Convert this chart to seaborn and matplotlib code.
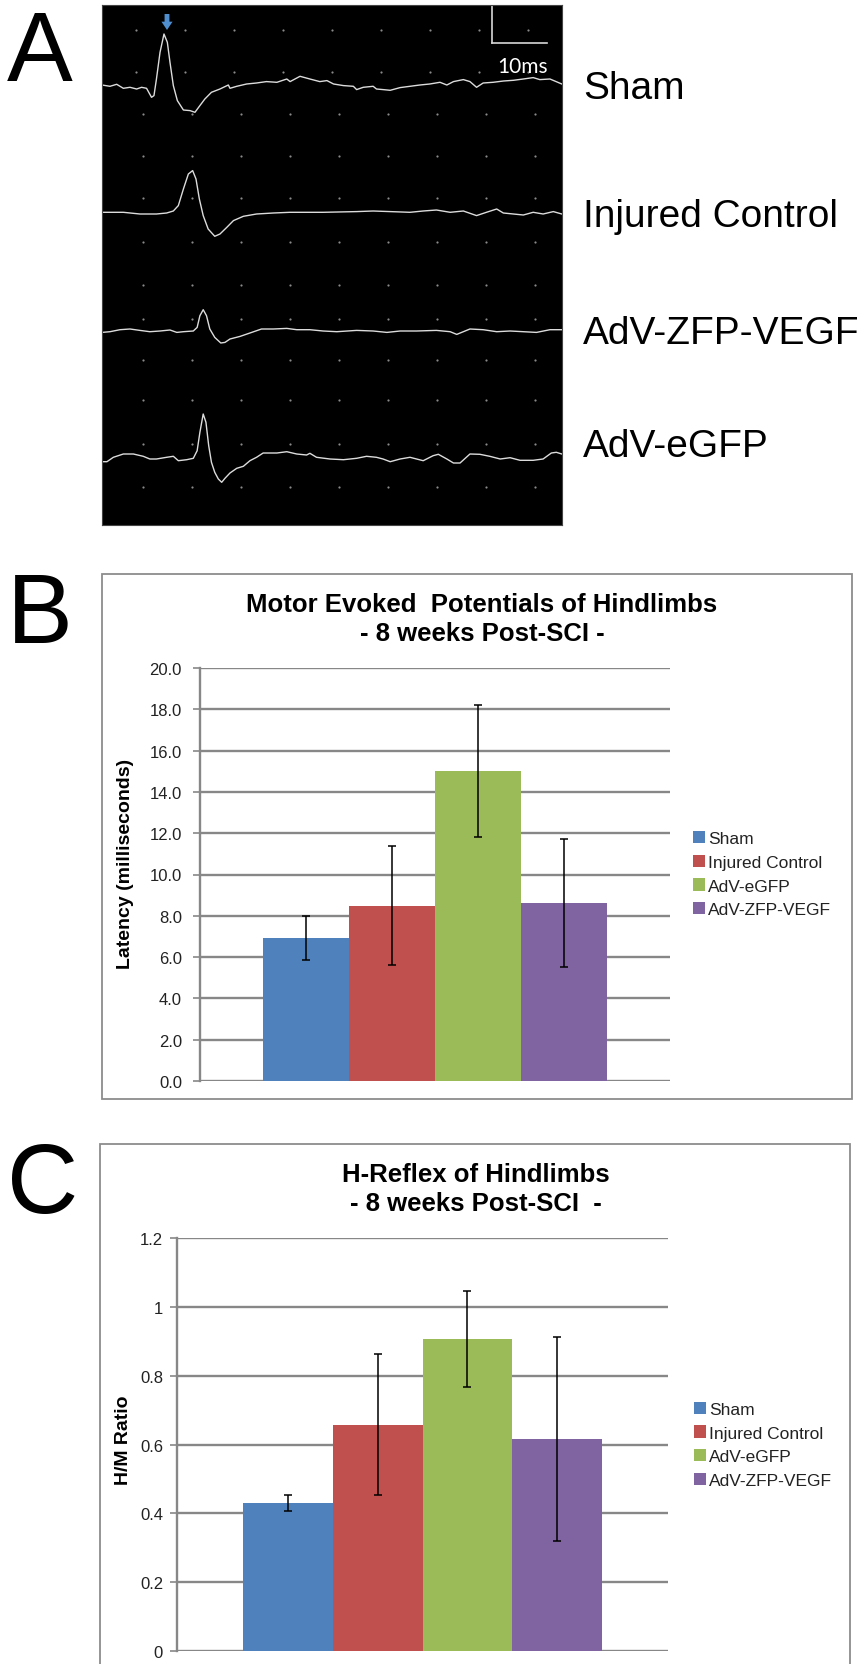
import numpy as np
import pandas as pd
import seaborn as sns
import matplotlib
matplotlib.use("Agg")
from matplotlib import pyplot as plt
from matplotlib.patches import Patch, Rectangle

# %% data
trace_names = ["Sham", "Injured Control", "AdV-ZFP-VEGF", "AdV-eGFP"]

# traces: time (ms) and amplitude (screen units, up = positive)
sham_t = [0, 1.45, 2.67, 3.88, 5.09, 6.3, 7.2, 8.1, 9.0, 9.45, 9.9, 10.55, 11.27, 11.88, 12.36, 12.97,
          13.7, 14.8, 16.0, 16.9, 17.8, 18.7, 19.9, 21.45, 22.97, 23.27, 24.5, 26.3, 28.1, 29.9, 31.8,
          33.6, 34.2, 36.0, 37.8, 39.6, 40.9, 42.1, 43.9, 45.7, 46.3, 47.5, 49.3, 49.9, 51.1, 52.4,
          54.2, 56.0, 57.8, 59.6, 61.45, 62.7, 63.9, 65.7, 66.9, 68.1, 69.3, 71.1, 73.0, 74.8, 76.6,
          78.4, 79.6, 81.45, 83.6]
sham_amp = [1.3, 0, 2, -2, -1, -2.7, -1, -2, -11, -9.3, 7.3, 34, 52.3, 44, 24, 0.7,
            -14.3, -23.7, -24.3, -26, -19.3, -12.7, -6, -2.7, 1.3, -2, 0, 2.3, 3.3, 4.7, 4,
            7.3, 4.7, 10, 7.3, 4.7, 5.7, 2.3, 0.7, 0, -3.3, -1, 0, -2.7, -3.3, -4,
            -1.3, 0, 1.3, 2.3, 4, 1.3, 4.7, 6.7, 4.7, -1, 3.3, 4, 5.3, 6, 7.3,
            8.7, 6.7, 7.3, 2.3]

injured_t = [0, 3.88, 6.9, 9.9, 11.76, 12.97, 13.88, 14.8, 15.7, 16.48, 17.09, 17.7, 18.4, 19.3,
             20.5, 21.45, 22.7, 23.9, 25.7, 28.1, 31.15, 34.2, 40.2, 46.3, 49.3, 52.4, 56.0, 58.4,
             60.8, 63.3, 65.7, 68.1, 69.9, 71.76, 72.97, 74.8, 76.6, 78.4, 80.2, 82.06, 83.6]
injured_amp = [0, 0, -1.7, -1.7, -0.7, 1.3, 6.7, 23.3, 38.3, 41.7, 33.3, 13.3, -3.3, -16.7,
               -24, -21.7, -15, -8.3, -4, -1.7, -0.7, 0, 0, 0.7, 1.3, 0.7, 0, 1.3,
               2.3, 0, 1.3, -3.3, 0, 3.3, -0.7, -1.7, -2.7, 0, -1.7, 0.7, -1.7]

zfp_t = [0, 1.45, 3.27, 5.09, 6.9, 8.7, 10.55, 12.36, 13.6, 14.8, 16.6, 17.3, 17.8, 18.4, 19.0,
         19.6, 20.5, 21.6, 22.36, 23.27, 25.1, 26.9, 29.0, 31.15, 33.6, 35.4, 37.8, 40.2, 42.7,
         46.3, 49.3, 51.8, 54.2, 57.2, 60.8, 63.3, 64.5, 66.9, 69.3, 71.76, 74.2, 76.6, 79.0,
         81.45, 83.6]
zfp_amp = [-0.7, 0, 2, 2.7, 1.3, 0, 0.7, 1.7, -0.7, 0, 0.7, 4.3, 16, 22, 16,
           2.7, -5.7, -11.3, -10.7, -7.3, -4.7, -1.3, 2.7, 2.7, 3.3, 2, 2, 0.7, 0,
           1.3, 0.7, -0.7, 0.7, 0.7, 1.3, 0, -2.7, 2.7, 2, 0, 0.7, 0, -0.7,
           2, 2]

egfp_t = [0, 0.9, 2.06, 3.88, 5.7, 7.5, 8.7, 9.9, 11.76, 12.97, 13.88, 15.4, 16.6, 17.3, 17.8,
          18.4, 18.9, 19.4, 19.9, 20.5, 21.15, 21.76, 22.36, 23.27, 24.5, 25.7, 26.9, 28.1, 29.3,
          31.8, 33.6, 35.4, 37.2, 37.8, 39.0, 41.45, 43.9, 46.3, 48.1, 49.9, 51.1, 52.4, 54.2,
          56.0, 58.4, 60.2, 61.15, 62.7, 63.9, 65.1, 66.9, 68.7, 70.5, 72.4, 74.2, 76.0, 78.4,
          80.2, 81.7, 82.6, 83.6]
egfp_amp = [-2.7, -2.7, 1.7, 5, 5, 2.7, 0, 0, 1.7, 2.7, -1.7, -0.7, 0.7, 8.3, 26.7,
            45, 36.7, 13.3, -3.3, -13.3, -20, -23.3, -19.3, -14, -9.3, -7.3, -1.7, 1.7, 6,
            6, 7.3, 5, 4, 5.7, 1.7, 0, -0.7, 0.7, 2.7, 1.7, 0, -2.7, 0,
            1.7, -1.7, 3.3, 4.7, 0, -4, -4, 5, 4.7, 2.7, 0, 1.3, -1.3, -1.3,
            0, 6, 6.7, 5]

groups = ["Sham", "Injured Control", "AdV-eGFP", "AdV-ZFP-VEGF"]
mep_latency = [6.92, 8.49, 15.0, 8.62]
mep_err = [1.07, 2.89, 3.2, 3.12]
hm_ratio = [0.430, 0.657, 0.907, 0.617]
hm_err = [0.022, 0.205, 0.14, 0.296]

colors = ["#4F81BD", "#C0504D", "#9BBB59", "#8064A2"]

# %% figure
W, H = 863, 1665
fig = plt.figure(figsize=(W / 100, H / 100), dpi=100)
plt.rcParams["font.family"] = ["Liberation Sans", "DejaVu Sans"]


def fig_rect(x0, y0, x1, y1):
    return [x0 / W, 1 - y1 / H, (x1 - x0) / W, (y1 - y0) / H]


def fx(x):
    return x / W


def fy(y):
    return 1 - y / H


# %% panel A - traces
PX_PER_MS = 5.5
axA = fig.add_axes(fig_rect(102, 6, 562, 526))
axA.set_facecolor("black")
axA.set_xlim(0, 460 / PX_PER_MS)
axA.set_ylim(520, 0)
axA.set_xticks([])
axA.set_yticks([])
for s in axA.spines.values():
    s.set_color("#444444")
    s.set_linewidth(0.8)

# faint grid dots of the recorder screen
dot_rows = [25, 67, 109, 151, 193, 237, 280, 314, 355, 395, 439, 482]
for i, yr in enumerate(dot_rows):
    x0 = 34 if i < 2 else 41
    xs = (x0 + 49 * np.arange(9)) / PX_PER_MS
    axA.scatter(xs, [yr] * len(xs), s=2.5, color="#8a8a8a", linewidths=0)

baselines = [81.3, 207.3, 326.7, 454.0]
traces = [(sham_t, sham_amp), (injured_t, injured_amp), (zfp_t, zfp_amp), (egfp_t, egfp_amp)]
for (t, amp), base in zip(traces, baselines):
    sns.lineplot(x=t, y=base - np.array(amp), ax=axA, color="#dcdcdc", lw=1.0,
                 estimator=None, sort=False)

# scale bar
sb_x0, sb_x1 = 390 / PX_PER_MS, 445 / PX_PER_MS
axA.plot([sb_x0, sb_x0], [0, 38], color="#d8d8d8", lw=1.2)
axA.plot([sb_x0, sb_x1], [38, 38], color="#d8d8d8", lw=1.2)
axA.text((sb_x0 + sb_x1) / 2 + 0.6, 61, "10ms", color="white", fontsize=15,
         family=["Lato", "DejaVu Sans"], ha="center", va="center")

# stimulus arrow
axA.annotate("", xy=(65 / PX_PER_MS, 25), xytext=(65 / PX_PER_MS, 9),
             arrowprops=dict(width=3.5, headwidth=8, headlength=6, color="#4f8fd0", lw=0))

label_baselines = [99, 227, 344, 457]
for name, yb in zip(trace_names, label_baselines):
    fig.text(fx(583), fy(yb), name, fontsize=28, ha="left", va="baseline")

# panel letters
for letter, yb in zip(["A", "B", "C"], [81, 643, 1213]):
    fig.text(fx(7), fy(yb), letter, fontsize=71, ha="left", va="baseline")


# %% panels B and C - bar charts
def bar_panel(box, rect, values, errs, ymax, step, fmt, ylabel, ylabel_xy, titles, title_x,
              leg_anchor, tick_pad):
    bx0, by0, bx1, by1 = box
    fig.add_artist(Rectangle((fx(bx0), fy(by1)), (bx1 - bx0) / W, (by1 - by0) / H,
                             transform=fig.transFigure, fill=False, ec="#8c8c8c", lw=1.3))
    ax = fig.add_axes(fig_rect(*rect))
    df = pd.DataFrame({"time": "8 weeks", "group": groups, "value": values})
    sns.barplot(data=df, x="time", y="value", hue="group", hue_order=groups, palette=colors,
                width=0.73, gap=0, saturation=1, errorbar=None, legend=False, linewidth=0, ax=ax)
    xs = [p.get_x() + p.get_width() / 2 for p in ax.patches[:len(groups)]]
    ax.errorbar(xs, values, yerr=errs, fmt="none", ecolor="black", elinewidth=1.1,
                capsize=3, capthick=1.1, zorder=4)
    ax.set_xlim(-0.5, 0.5)
    ax.set_ylim(0, ymax)
    ticks = np.arange(0, ymax + step / 2, step)
    ax.set_yticks(ticks)
    ax.set_yticklabels([fmt(v) for v in ticks])
    ax.set_xticks([])
    ax.set_xlabel("")
    ax.set_ylabel("")
    ax.yaxis.grid(True, color="#878787", lw=1.7)
    ax.set_axisbelow(True)
    for side in ["top", "right", "bottom"]:
        ax.spines[side].set_visible(False)
    ax.spines["left"].set_color("#878787")
    ax.spines["left"].set_linewidth(1.7)
    ax.tick_params(axis="y", length=5, width=1.2, color="#878787", pad=tick_pad,
                   labelsize=12, labelcolor="#222222")
    handles = [Patch(facecolor=c, label=g) for c, g in zip(colors, groups)]
    ax.legend(handles=handles, loc="center left", bbox_to_anchor=leg_anchor, frameon=False,
              fontsize=12.5, handlelength=0.7, handleheight=0.7, handletextpad=0.15,
              labelspacing=0.5, borderpad=0, borderaxespad=0, labelcolor="#222222")
    fig.text(fx(ylabel_xy[0]), fy(ylabel_xy[1]), ylabel, rotation=90, fontsize=14,
             fontweight="bold", ha="center", va="center")
    for line, dy in zip(titles, [37, 66]):
        fig.text(fx(title_x), fy(by0 + dy), line, fontsize=18.5, fontweight="bold",
                 ha="center", va="baseline")
    return ax


bar_panel((102, 575, 852, 1100), (200, 669, 670, 1082), mep_latency, mep_err, 20, 2,
          lambda v: f"{v:.1f}", "Latency (milliseconds)", (126, 864),
          ["Motor Evoked  Potentials of Hindlimbs", "- 8 weeks Post-SCI -"], 482,
          (1.049, 0.501), 8)

# panel C frame runs off the bottom of the figure
bar_panel((100, 1145, 850, 1680), (177, 1239, 668, 1652), hm_ratio, hm_err, 1.2, 0.2,
          lambda v: f"{round(v, 1):g}", "H/M Ratio", (123, 1440),
          ["H-Reflex of Hindlimbs", "- 8 weeks Post-SCI  -"], 476,
          (1.053, 0.499), 5)

fig.savefig("out.png", dpi=100)
